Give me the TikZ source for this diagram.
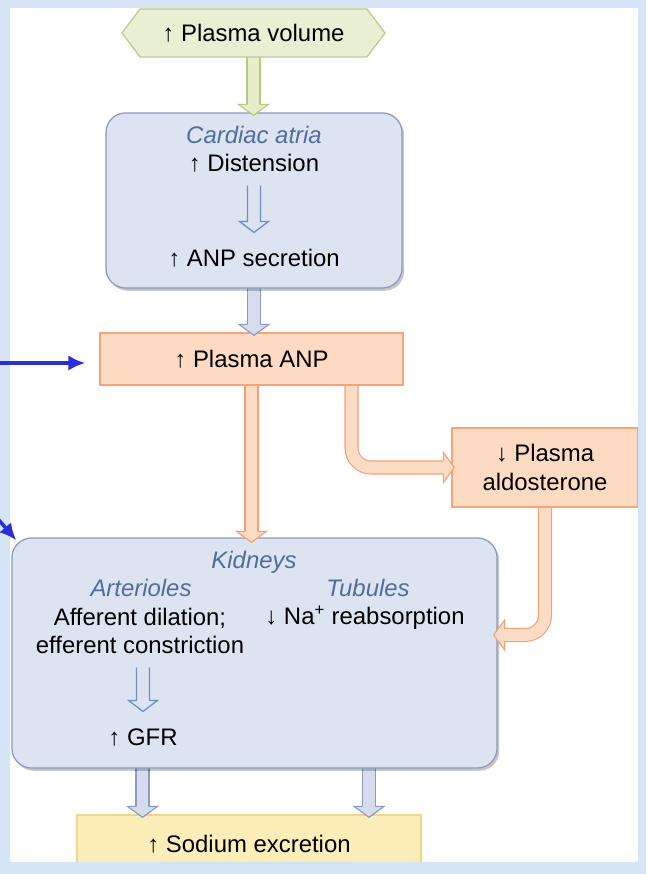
\documentclass[tikz,border=0pt]{standalone}
\usepackage{fontspec}
\setmainfont{Liberation Sans}
\usetikzlibrary{arrows.meta, positioning, calc, backgrounds, shapes.symbols, shadows}
\definecolor{FrameBlue}{HTML}{D5E5F5}
\definecolor{HexFill}{HTML}{E9EFD2}
\definecolor{HexEdge}{HTML}{B9CD8F}
\definecolor{OrganFill}{HTML}{DCE3F1}
\definecolor{OrganEdge}{HTML}{8D9CBB}
\definecolor{LabelBlue}{HTML}{4F6E9E}
\definecolor{PeachFill}{HTML}{FDDAC2}
\definecolor{PeachEdge}{HTML}{F4A67A}
\definecolor{GoldFill}{HTML}{FDEDB8}
\definecolor{GoldEdge}{HTML}{F3D488}
\definecolor{FlowBlue}{HTML}{D4DCEE}
\definecolor{FlowBlueEdge}{HTML}{8A9AC0}
\definecolor{FlowPeach}{HTML}{FDDCC6}
\definecolor{FlowPeachEdge}{HTML}{F3A074}
\definecolor{FlowGreen}{HTML}{E6EEC9}
\definecolor{FlowGreenEdge}{HTML}{B4CA84}
\definecolor{InnerBlue}{HTML}{6E8FC4}
\definecolor{PointerBlue}{HTML}{2A2ED6}
\newcommand{\figfont}{\fontsize{17pt}{20pt}\selectfont}
\tikzset{
  hexbox/.style={signal, signal to=west and east, signal pointer angle=106, draw=HexEdge, fill=HexFill, line width=0.9pt, minimum width=6.575cm, minimum height=1.2cm, inner sep=0pt, font=\figfont},
  organ/.style={draw=OrganEdge, fill=OrganFill, line width=0.9pt, rounded corners=14pt, drop shadow={shadow xshift=1.5pt, shadow yshift=-2pt, fill=black, opacity=0.22}},
  peachbox/.style={draw=PeachEdge, fill=PeachFill, line width=0.9pt, align=center, inner sep=0pt, font=\figfont},
  goldbox/.style={draw=GoldEdge, fill=GoldFill, line width=0.9pt, align=center, inner sep=0pt, font=\figfont},
  txt/.style={inner sep=0pt, align=center, text height=12.5pt, text depth=3.5pt, font=\figfont},
  sublabel/.style={txt, font=\figfont\itshape, text=LabelBlue},
  blueflow/.style={draw=FlowBlueEdge, double=FlowBlue, line width=0.8pt, double distance=8.4pt},
  peachflow/.style={draw=FlowPeachEdge, double=FlowPeach, line width=0.8pt, double distance=8.4pt, rounded corners=14pt},
  greenflow/.style={draw=FlowGreenEdge, double=FlowGreen, line width=0.8pt, double distance=8.4pt},
  bluetip/.style={fill=FlowBlue, draw=FlowBlueEdge, line width=0.8pt},
  peachtip/.style={fill=FlowPeach, draw=FlowPeachEdge, line width=0.8pt},
  greentip/.style={fill=FlowGreen, draw=FlowGreenEdge, line width=0.8pt},
  innerflow/.style={draw=InnerBlue, line width=0.9pt},
  pointer/.style={draw=PointerBlue, line width=2.5pt, -{Latex[length=12pt,width=11pt]}},
  pics/flowtip/.style={code={
    \fill[pic actions, draw=none] (-10.7pt,7.8pt) -- (0,0) -- (10.7pt,7.8pt) -- cycle;
    \draw[pic actions, fill=none] (-4.6pt,7.8pt) -- (-10.7pt,7.8pt) -- (0,0) -- (10.7pt,7.8pt) -- (4.6pt,7.8pt);
  }}
}
% thin open arrow inside a box, between two text nodes
\newcommand{\hollowflow}[2]{%
  \draw[innerflow] let \p1=(#1.south), \p2=(#2.north) in
    ({\x2-4.6pt},{\y1-6.4pt}) -- ({\x2-4.6pt},{\y2+19.2pt}) -- ({\x2-10.3pt},{\y2+19.2pt})
    -- ({\x2},{\y2+11.4pt}) -- ({\x2+10.3pt},{\y2+19.2pt}) -- ({\x2+4.6pt},{\y2+19.2pt})
    -- ({\x2+4.6pt},{\y1-6.4pt});}
\begin{document}
\begin{tikzpicture}[x=0.025cm, y=0.025cm]
\useasboundingbox (0,0) rectangle (646,874);

% boxes
\node[hexbox] (vol) at (253.5,841) {↑ Plasma volume};
\node[organ, minimum width=7.4cm, minimum height=4.375cm] (atria) at (254,673.5) {};
\node[sublabel] (atrlab) at (254,737) {Cardiac atria};
\node[txt] (dist) at (254,709) {↑ Distension};
\node[txt] (anpsec) at (254,614) {↑ ANP secretion};
\node[peachbox, minimum width=7.575cm, minimum height=1.3cm] (anp) at (251.5,515) {↑ Plasma ANP};
\node[peachbox, minimum width=4.65cm, minimum height=1.975cm] (aldo) at (545,406.5) {↓ Plasma\\aldosterone};
\node[organ, minimum width=12.125cm, minimum height=5.75cm] (kid) at (254.5,221) {};
\node[sublabel] (kidlab) at (254,312) {Kidneys};
\node[sublabel] (artlab) at (141,284) {Arterioles};
\node[sublabel] (tublab) at (368,284) {Tubules};
\node[txt] (aff) at (140,227) {Afferent dilation;\\efferent constriction};
\node[txt] (nare) at (365,256) {↓ Na\textsuperscript{+} reabsorption};
\node[txt] (gfr) at (143,135) {↑ GFR};
\node[goldbox, minimum width=8.6cm, minimum height=1.475cm] (na) at (249,29.5) {↑ Sodium excretion};

% arrow tips
\coordinate (tipA) at ($(vol.south |- atria.north)+(0,-3)$);
\coordinate (tipB) at ($(atria.south |- anp.north)+(0,-3)$);
\coordinate (tipC) at ($(anp.south |- kid.north)+(0,-5)$);
\coordinate (tipD) at ($(aldo.west)+(3,0)$);
\coordinate (tipE) at ($(kid.east)+(-4,18)$);
\coordinate (tipF) at ($(kid.south -| 142.5,0)+(0,0)$);
\coordinate (tipF) at ($(tipF |- na.north)+(0,-3)$);
\coordinate (tipG) at ($(kid.south -| 369,0)$);
\coordinate (tipG) at ($(tipG |- na.north)+(0,-3)$);

\begin{scope}[on background layer]
  \fill[white] (0,0) rectangle (646,874);
  \draw[greenflow] (vol.center) -- ($(tipA)+(0,10)$);
  \draw[blueflow] (atria.center |- atria.south) ++(0,10) -- ($(tipB)+(0,10)$);
  \draw[peachflow] (anp.center) -- ($(tipC)+(0,10)$);
  \draw[peachflow] ($(anp.south)+(100,10)$) |- ($(tipD)+(-10,0)$);
  \draw[peachflow] ($(aldo.south)+(0,10)$) |- ($(tipE)+(10,0)$);
  \draw[blueflow] ($(tipF |- kid.south)+(0,10)$) -- ($(tipF)+(0,10)$);
  \draw[blueflow] ($(tipG |- kid.south)+(0,10)$) -- ($(tipG)+(0,10)$);
\end{scope}

\pic[greentip] at (tipA) {flowtip};
\pic[bluetip] at (tipB) {flowtip};
\pic[peachtip] at (tipC) {flowtip};
\pic[peachtip, rotate=90] at (tipD) {flowtip};
\pic[peachtip, rotate=-90] at (tipE) {flowtip};
\pic[bluetip] at (tipF) {flowtip};
\pic[bluetip] at (tipG) {flowtip};

\hollowflow{dist}{anpsec}
\hollowflow{aff}{gfr}

% frame round the figure
\fill[FrameBlue, even odd rule] (0,0) rectangle (646,874) (10,12) rectangle (638,866);

% pointers from the margin
\coordinate (srcA) at (0,511);
\coordinate (srcB) at (-2,355);
\draw[pointer, shorten >=10pt] (srcA) -- (srcA -| anp.west);
\draw[pointer] (srcB) -- ($(kid.north west)+(5,-3)$);
\end{tikzpicture}
\end{document}
